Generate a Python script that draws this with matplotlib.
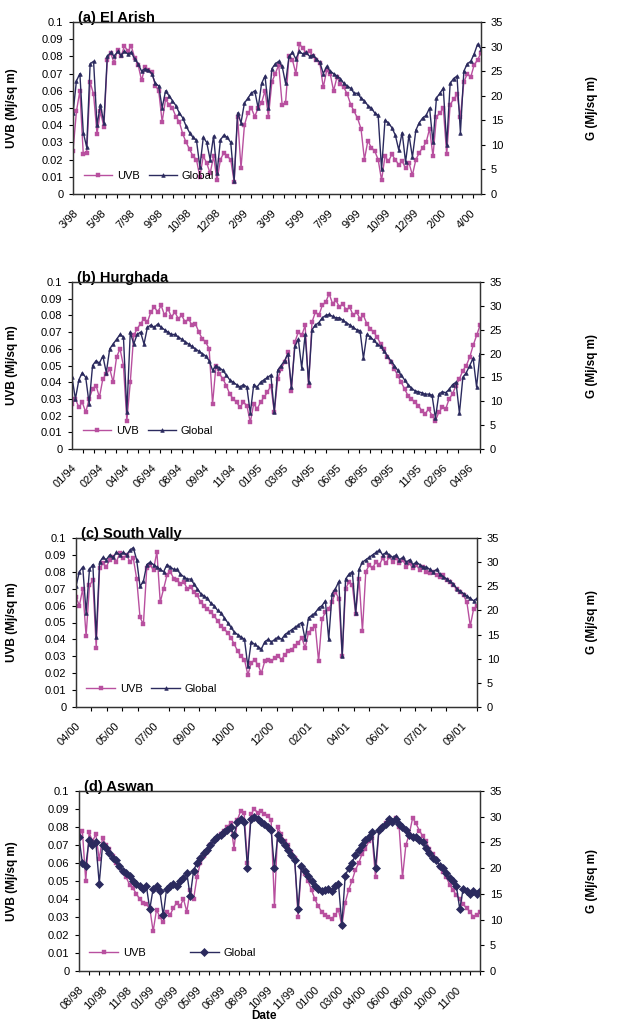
import numpy as np
import matplotlib
matplotlib.use("Agg")
import matplotlib.pyplot as plt

plt.rcParams['font.family'] = ['Liberation Sans', 'DejaVu Sans']

UVB_COL = '#b8509f'
GLB_COL = '#2b2a5e'

# ---- (a) El Arish ----  UVB in 1e-3 Mj/sq m, Global in Mj/sq m
a_labels = ['3/98', '5/98', '7/98', '9/98', '10/98', '12/98', '2/99', '3/99',
            '5/99', '7/99', '9/99', '10/99', '12/99', '2/00', '4/00']
a_uvb = [25, 48, 60, 23, 24, 65, 58, 35, 48, 39,
         78, 82, 76, 84, 80, 86, 83, 86, 79, 75,
         66, 74, 72, 71, 63, 60, 42, 55, 52, 50,
         45, 42, 35, 30, 26, 22, 20, 10, 22, 18,
         12, 22, 8, 20, 24, 22, 20, 7, 45, 15,
         40, 47, 50, 45, 50, 53, 60, 45, 65, 70,
         75, 52, 53, 80, 78, 70, 87, 85, 82, 83,
         80, 78, 76, 62, 72, 70, 60, 68, 64, 62,
         58, 52, 48, 44, 38, 20, 31, 27, 25, 20,
         8, 22, 19, 23, 20, 17, 19, 15, 18, 11,
         20, 24, 27, 30, 38, 22, 45, 47, 50, 23,
         52, 55, 58, 45, 65, 70, 68, 75, 78, 82]
a_glb = [16.5, 23.0, 24.5, 12.5, 9.5, 26.5, 27.0, 14.0, 18.2, 14.5,
         28.0, 28.8, 28.0, 29.0, 28.2, 29.0, 28.5, 28.8, 27.5, 26.5,
         25.0, 25.5, 25.2, 24.5, 22.5, 22.0, 17.5, 21.0, 20.0, 19.0,
         18.0, 16.5, 15.5, 13.8, 12.5, 11.5, 11.0, 5.5, 11.5, 10.5,
         7.0, 11.8, 4.2, 11.0, 12.0, 11.5, 10.5, 2.7, 16.5, 14.5,
         18.5, 19.5, 20.5, 21.0, 17.5, 22.5, 24.0, 17.5, 25.5, 26.5,
         27.0, 26.0, 22.5, 28.0, 28.8, 27.5, 29.0, 28.5, 28.8, 28.0,
         28.3, 27.5, 26.8, 24.5, 26.0, 25.0, 24.5, 24.0, 23.5, 22.5,
         22.0, 21.5, 20.5, 20.5, 19.5, 19.0, 18.0, 17.5, 16.5, 16.0,
         5.0, 15.0, 14.5, 13.5, 12.0, 9.0, 12.5, 6.5, 12.0, 7.5,
         13.0, 14.5, 15.5, 16.0, 17.5, 10.5, 19.5, 20.5, 21.5, 10.0,
         22.5, 23.5, 24.0, 12.5, 25.0, 26.5, 27.0, 28.5, 30.5, 29.5]

# ---- (b) Hurghada ----
b_labels = ['01/94', '02/94', '04/94', '06/94', '08/94', '09/94', '11/94', '01/95',
            '03/95', '04/95', '06/95', '08/95', '09/95', '11/95', '02/96', '04/96']
b_uvb = [27, 30, 25, 28, 22, 30, 36, 38, 31, 42,
         45, 48, 40, 55, 60, 50, 17, 40, 68, 72,
         75, 78, 76, 82, 85, 82, 86, 80, 84, 79,
         82, 78, 80, 76, 78, 74, 75, 70, 66, 64,
         60, 27, 50, 45, 42, 38, 33, 30, 28, 25,
         28, 26, 16, 27, 24, 28, 31, 34, 38, 22,
         42, 48, 52, 58, 35, 64, 70, 68, 74, 38,
         76, 82, 80, 86, 88, 93, 87, 89, 85, 87,
         83, 85, 80, 82, 78, 80, 75, 72, 70, 67,
         63, 60, 55, 52, 48, 44, 40, 36, 32, 30,
         28, 26, 23, 21, 24, 20, 17, 22, 25, 24,
         30, 33, 38, 42, 47, 50, 55, 62, 68, 74]
b_glb = [15.0, 10.5, 14.5, 16.0, 15.0, 9.5, 17.5, 18.5, 18.0, 19.5,
         16.0, 21.0, 22.0, 23.0, 24.0, 23.5, 7.7, 24.5, 22.0, 24.0,
         24.5, 22.0, 25.5, 26.0, 25.5, 26.2, 25.5, 25.0, 24.5, 24.0,
         24.0, 23.5, 23.0, 22.5, 22.0, 21.5, 21.0, 20.5, 20.0, 19.5,
         18.5, 16.5, 17.5, 17.0, 16.5, 15.5, 14.5, 14.0, 13.5, 13.0,
         13.5, 13.0, 7.5, 13.5, 13.0, 14.0, 14.5, 15.0, 15.5, 7.8,
         16.5, 17.5, 18.5, 20.0, 13.0, 21.5, 23.0, 17.0, 24.0, 14.0,
         25.0, 26.0, 26.5, 27.5, 28.0, 28.2, 27.8, 27.5, 27.5, 27.0,
         26.5, 26.0, 25.5, 25.0, 24.8, 19.0, 24.0, 23.5, 22.8, 22.0,
         21.5, 20.5, 19.5, 18.5, 17.5, 16.5, 15.5, 14.5, 13.5, 12.8,
         12.2, 12.0, 11.8, 11.5, 11.5, 11.3, 6.5, 11.5, 12.0, 11.8,
         12.5, 13.5, 14.0, 7.5, 15.0, 16.0, 17.5, 19.0, 13.0, 20.0]

# ---- (c) South Vally ----
c_labels = ['04/00', '05/00', '07/00', '09/00', '10/00', '12/00', '02/01', '04/01',
            '06/01', '07/01', '09/01']
c_uvb = [65, 60, 70, 42, 72, 75, 35, 82, 85, 83,
         87, 89, 86, 91, 88, 90, 86, 88, 76, 53,
         49, 82, 84, 81, 92, 62, 70, 78, 80, 76,
         75, 73, 74, 70, 71, 68, 66, 62, 60, 58,
         56, 54, 51, 48, 46, 44, 41, 37, 33, 30,
         28, 19, 26, 28, 25, 20, 27, 28, 27, 29,
         30, 28, 31, 33, 34, 36, 38, 41, 35, 44,
         46, 48, 27, 52, 56, 58, 62, 68, 64, 30,
         70, 74, 72, 55, 76, 45, 80, 84, 82, 86,
         84, 88, 85, 89, 86, 88, 85, 87, 83, 85,
         82, 84, 81, 83, 80, 79, 80, 78, 77, 78,
         75, 74, 72, 70, 68, 66, 62, 48, 58, 60]
c_glb = [25.0, 28.0, 29.0, 19.5, 28.5, 29.5, 14.5, 30.0, 31.0, 30.5,
         31.5, 31.0, 32.0, 31.5, 32.0, 31.5, 32.5, 33.0, 30.5, 25.0,
         26.0, 29.5, 30.0, 29.5, 29.0, 28.5, 28.0, 29.5, 29.0, 28.5,
         28.5, 27.5, 27.0, 26.5, 26.5, 25.5, 24.5, 23.5, 23.0, 22.5,
         21.5, 21.0, 20.0, 19.5, 18.5, 17.5, 16.5, 15.5, 15.0, 14.5,
         14.0, 8.4, 13.5, 13.0, 12.5, 12.0, 13.5, 14.0, 13.5, 14.0,
         14.5, 14.0, 15.0, 15.5, 16.0, 16.5, 17.0, 17.5, 14.0, 18.5,
         19.0, 19.5, 20.5, 21.0, 22.0, 14.0, 23.5, 24.5, 26.0, 10.5,
         26.5, 27.5, 28.0, 19.5, 28.5, 30.0, 30.5, 31.0, 31.5, 32.0,
         32.5, 31.5, 32.0, 31.5, 31.0, 31.5, 30.5, 31.0, 30.0, 30.5,
         29.5, 30.0, 29.5, 29.0, 29.0, 28.5, 28.0, 28.5, 27.5, 27.0,
         26.5, 26.0, 25.5, 24.5, 24.0, 23.5, 23.0, 22.5, 22.0, 22.5]

# ---- (d) Aswan ----
d_labels = ['08/98', '10/98', '11/98', '01/99', '03/99', '05/99', '06/99', '08/99',
            '10/99', '11/99', '01/00', '03/00', '04/00', '06/00', '08/00', '10/00', '11/00']
d_uvb = [75, 78, 50, 77, 72, 76, 62, 74, 70, 68,
         64, 60, 58, 55, 52, 48, 46, 43, 40, 38,
         37, 35, 22, 34, 30, 27, 33, 31, 35, 38,
         36, 40, 33, 45, 40, 52, 60, 64, 66, 70,
         72, 74, 76, 78, 80, 82, 68, 84, 89, 88,
         60, 87, 90, 88, 89, 87, 86, 84, 36, 80,
         76, 72, 70, 66, 63, 30, 58, 54, 50, 45,
         40, 36, 33, 31, 30, 29, 31, 34, 25, 38,
         45, 50, 56, 60, 65, 68, 72, 74, 52, 78,
         80, 82, 84, 83, 85, 80, 52, 70, 76, 85,
         82, 78, 75, 72, 68, 65, 62, 58, 55, 52,
         48, 45, 42, 40, 37, 35, 33, 30, 31, 33]
d_glb = [26.0, 21.0, 20.5, 25.5, 24.5, 25.0, 17.0, 24.5, 24.0, 23.0,
         22.0, 21.5, 20.5, 19.5, 19.0, 18.5, 17.5, 17.0, 16.5, 16.0,
         16.5, 12.0, 16.0, 16.5, 15.5, 10.8, 16.0, 16.5, 17.0, 16.5,
         17.5, 18.0, 19.0, 14.5, 19.5, 21.0, 22.0, 23.0, 23.5, 24.5,
         25.5, 26.0, 26.5, 27.0, 27.5, 28.0, 26.5, 29.0, 29.5, 29.0,
         20.0, 29.5, 30.0, 29.5, 29.0, 28.5, 28.0, 27.5, 20.0, 26.5,
         25.5, 24.5, 23.5, 22.5, 21.5, 12.0, 20.5, 19.5, 18.5, 17.5,
         16.5, 16.0, 15.5, 15.8, 16.0, 15.5, 16.5, 17.0, 9.0, 18.5,
         20.0, 21.0, 22.5, 23.5, 24.5, 25.5, 26.0, 27.0, 20.0, 27.5,
         28.0, 28.5, 29.5, 29.0, 29.5, 28.5, 28.0, 27.5, 26.5, 26.0,
         26.0, 25.5, 25.0, 24.0, 23.0, 22.0, 21.5, 20.5, 20.0, 19.0,
         18.0, 17.5, 16.5, 12.0, 16.0, 15.5, 15.0, 15.5, 15.0, 15.5]

W, H = 628, 1026
fig = plt.figure(figsize=(W / 100, H / 100), dpi=100)


def panel(box, title, labels, uvb, glb, days, lab_step, gmark, gms, colsp):
    l, r, t, b = box
    ax = fig.add_axes([l / W, 1 - b / H, (r - l) / W, (b - t) / H])
    ax2 = ax.twinx()
    xu = np.linspace(0, days, len(uvb))
    xg = np.linspace(0, days, len(glb))
    ax.plot(xu, np.array(uvb) / 1000, color=UVB_COL, lw=1.0, marker='s', ms=3.4,
            mec=UVB_COL, mew=0.3, label='UVB')
    ax2.plot(xg, glb, color=GLB_COL, lw=1.0, marker=gmark, ms=gms,
             mec=GLB_COL, mew=0.5, label='Global')

    ax.set_xlim(0, days)
    ax.set_ylim(0, 0.1)
    ax2.set_ylim(0, 35)
    ax.set_yticks(np.arange(0, 0.1001, 0.01))
    ax.set_yticklabels([f'{v:g}' for v in np.arange(0, 0.1001, 0.01)])
    ax2.set_yticks(np.arange(0, 36, 5))
    ax.set_xticks(np.arange(0, days + 0.1, 20), minor=True)
    ax.set_xticks(np.arange(len(labels)) * lab_step)
    ax.set_xticklabels(labels, rotation=45, ha='right', rotation_mode='anchor')
    ax.tick_params(axis='x', which='major', length=0, pad=10, labelsize=8)
    ax.tick_params(axis='x', which='minor', length=3, width=0.8, direction='out')
    ax.tick_params(axis='y', length=3, width=0.8, labelsize=8, pad=4)
    ax2.tick_params(axis='y', length=3, width=0.8, labelsize=8, pad=4)
    for a in (ax, ax2):
        for s in a.spines.values():
            s.set_linewidth(0.9)
            s.set_color('#333333')

    ax.text(0.012, 0.985, title, transform=ax.transAxes, ha='left', va='bottom',
            fontsize=10.5, fontweight='bold')
    yc = 1 - (t + b) / 2 / H
    fig.text(12 / W, yc, 'UVB (Mj/sq m)', rotation=90, ha='center', va='center',
             fontsize=8.5, fontweight='bold')
    fig.text(592 / W, yc, 'G (Mj/sq m)', rotation=90, ha='center', va='center',
             fontsize=8.5, fontweight='bold')

    h1, l1 = ax.get_legend_handles_labels()
    h2, l2 = ax2.get_legend_handles_labels()
    ax2.legend(h1 + h2, l1 + l2, loc='lower left', bbox_to_anchor=(0.015, 0.05),
               ncol=2, frameon=False, fontsize=8, handlelength=2.6,
               handletextpad=0.4, columnspacing=colsp, borderaxespad=0)
    return ax


panel((73, 481, 22, 194), '(a) El Arish', a_labels, a_uvb, a_glb, 734, 51, '^', 2.6, 0.8)
panel((72, 480, 282, 449), '(b) Hurghada', b_labels, b_uvb, b_glb, 740, 48, '^', 2.6, 0.8)
panel((76, 477, 538, 707), '(c) South Vally', c_labels, c_uvb, c_glb, 520, 50, '^', 2.6, 0.8)
panel((79, 480, 791, 971), '(d) Aswan', d_labels, d_uvb, d_glb, 800, 47, 'D', 3.6, 4.0)

fig.text(264 / W, 1 - 1016 / H, 'Date', ha='center', va='center', fontsize=8.5,
         fontweight='bold')

fig.savefig('out.png', dpi=100)
